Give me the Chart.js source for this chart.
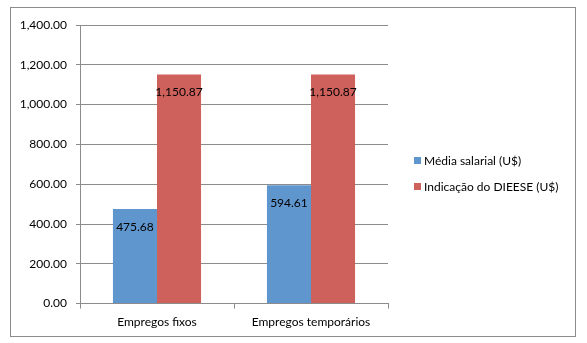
<!DOCTYPE html>
<html>
<head>
<meta charset="utf-8">
<script src="https://cdn.jsdelivr.net/npm/chart.js@4/dist/chart.umd.min.js"></script>
<style>
html,body{margin:0;padding:0;background:#fff;}
#wrap{position:relative;width:587px;height:343px;}
</style>
</head>
<body>
<div id="wrap"><canvas id="c" width="587" height="343"></canvas></div>
<script>
const categories = ["Empregos fixos", "Empregos temporários"];
const seriesNames = ["Média salarial (U$)", "Indicação do DIEESE (U$)"];
const mediaSalarial = [475.68, 594.61];
const indicacaoDieese = [1150.87, 1150.87];
const yTicks = [0, 200, 400, 600, 800, 1000, 1200, 1400];

const FONT = "Lato, 'Open Sans', sans-serif";
const colors = ["#6096CE", "#CF615C"];

function fmt(v){
  return v.toLocaleString('en-US',{minimumFractionDigits:2,maximumFractionDigits:2});
}

const frameAndLabels = {
  id: 'frameAndLabels',
  beforeDraw(chart){
    const ctx = chart.ctx;
    ctx.save();
    ctx.fillStyle = '#fff';
    ctx.fillRect(0,0,chart.width,chart.height);
    ctx.strokeStyle = '#8c8c8c';
    ctx.lineWidth = 1;
    ctx.strokeRect(10.5, 7.5, 565, 329);
    ctx.restore();
  },
  afterDatasetsDraw(chart){
    const ctx = chart.ctx;
    ctx.save();
    ctx.font = "12px " + FONT;
    ctx.fillStyle = '#000';
    ctx.textAlign = 'center';
    ctx.textBaseline = 'middle';
    chart.data.datasets.forEach((ds, i) => {
      const meta = chart.getDatasetMeta(i);
      meta.data.forEach((bar, j) => {
        ctx.fillText(fmt(ds.data[j]), bar.x, bar.y + 18);
      });
    });
    // legend
    const lx = 414, ys = [161, 187];
    chart.data.datasets.forEach((ds, i) => {
      ctx.fillStyle = ds.backgroundColor;
      ctx.fillRect(lx, ys[i]-4, 7, 7);
      ctx.fillStyle = '#000';
      ctx.textAlign = 'left';
      ctx.fillText(ds.label, lx + 10, ys[i]);
    });
    ctx.restore();
  }
};

new Chart(document.getElementById('c'), {
  type: 'bar',
  data: {
    labels: categories,
    datasets: [
      {label: seriesNames[0], data: mediaSalarial, backgroundColor: colors[0]},
      {label: seriesNames[1], data: indicacaoDieese, backgroundColor: colors[1]}
    ]
  },
  options: {
    responsive: false,
    animation: false,
    devicePixelRatio: 1,
    layout: {padding: {left: 10, right: 199, top: 25, bottom: 8}},
    plugins: {legend: {display: false}, tooltip: {enabled: false}},
    datasets: {bar: {categoryPercentage: 0.572, barPercentage: 1}},
    scales: {
      x: {
        grid: {display: true, drawOnChartArea: false, drawTicks: true, tickLength: 5, color: '#8c8c8c', offset: true},
        border: {display: true, color: '#8c8c8c'},
        ticks: {color: '#000', font: {family: FONT, size: 12}, padding: 6}
      },
      y: {
        min: 0, max: 1400,
        afterFit(s){ s.width = 70; },
        afterBuildTicks(s){ s.ticks = yTicks.map(v => ({value: v})); },
        grid: {color: '#8c8c8c', tickLength: 4},
        border: {display: true, color: '#8c8c8c'},
        ticks: {color: '#000', font: {family: FONT, size: 12}, padding: 9, callback: v => fmt(v)}
      }
    }
  },
  plugins: [frameAndLabels]
});
</script>
</body>
</html>
